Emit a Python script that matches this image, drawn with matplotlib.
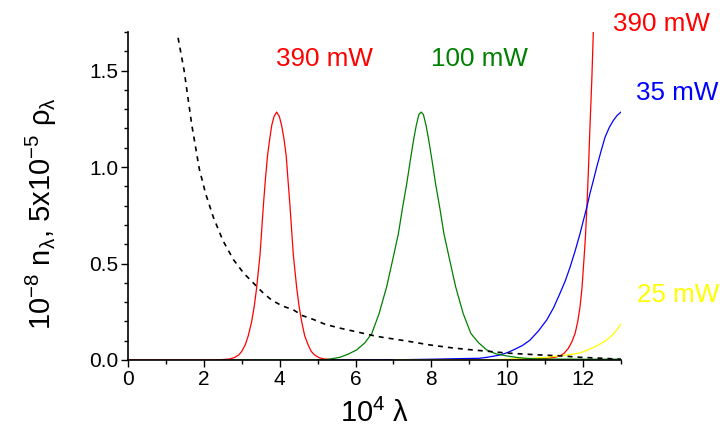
import matplotlib
matplotlib.use("Agg")
import matplotlib.pyplot as plt
from matplotlib.ticker import MultipleLocator

plt.rcParams['font.family'] = ['Liberation Sans', 'DejaVu Sans']
plt.rcParams['mathtext.fontset'] = 'custom'
plt.rcParams['mathtext.rm'] = 'Liberation Sans'
plt.rcParams['mathtext.it'] = 'Liberation Sans'
plt.rcParams['mathtext.bf'] = 'Liberation Sans:bold'

# ---- data ----
red_x = [0.0, 2.0, 2.4, 2.67, 2.8, 2.92, 3.0, 3.09, 3.17, 3.26, 3.33, 3.39, 3.48, 3.57,
         3.62, 3.68, 3.74, 3.79, 3.85, 3.92, 3.99, 4.05, 4.11, 4.17, 4.22, 4.27, 4.36,
         4.45, 4.51, 4.58, 4.66, 4.75, 4.83, 4.92, 5.04, 5.17, 5.5, 6.0, 8.0, 10.0, 10.6,
         11.04, 11.25, 11.39, 11.5, 11.61, 11.7, 11.79, 11.86, 11.92, 11.97, 12.01,
         12.06, 12.10, 12.14, 12.18, 12.23, 12.27, 12.32]
red_y = [0.0, 0.0, 0.001, 0.005, 0.012, 0.026, 0.045, 0.078, 0.125, 0.198, 0.28, 0.371,
         0.543, 0.802, 0.93, 1.061, 1.15, 1.216, 1.262, 1.285, 1.262, 1.216, 1.15, 1.061,
         0.93, 0.802, 0.543, 0.371, 0.28, 0.198, 0.125, 0.078, 0.045, 0.026, 0.012,
         0.005, 0.001, 0.0, 0.0, 0.002, 0.004, 0.009, 0.014, 0.021, 0.035, 0.06, 0.092,
         0.138, 0.2, 0.276, 0.37, 0.483, 0.63, 0.79, 0.98, 1.2, 1.45, 1.70, 1.95]

green_x = [2.5, 5.0, 5.3, 5.59, 5.8, 6.03, 6.25, 6.43, 6.62, 6.82, 6.98, 7.13, 7.24,
           7.35, 7.44, 7.53, 7.60, 7.67, 7.73, 7.79, 7.86, 7.93, 8.02, 8.11, 8.22, 8.33,
           8.48, 8.64, 8.84, 9.04, 9.24, 9.46, 9.7, 9.99, 10.3, 10.6, 11.0, 12.0, 13.0]
green_y = [0.0, 0.0, 0.004, 0.014, 0.03, 0.052, 0.09, 0.138, 0.24, 0.379, 0.52, 0.655,
           0.79, 0.914, 1.03, 1.14, 1.215, 1.272, 1.285, 1.272, 1.215, 1.14, 1.03, 0.914,
           0.79, 0.655, 0.52, 0.379, 0.24, 0.138, 0.09, 0.052, 0.032, 0.021, 0.012, 0.007,
           0.005, 0.004, 0.004]

blue_x = [5.0, 7.0, 8.0, 8.5, 9.0, 9.28, 9.5, 9.81, 10.0, 10.16, 10.4, 10.60, 10.82,
          11.04, 11.22, 11.39, 11.53, 11.66, 11.79, 11.92, 12.01, 12.10, 12.18, 12.27,
          12.36, 12.47, 12.58, 12.69, 12.80, 12.90, 13.0]
blue_y = [0.0, 0.001, 0.004, 0.006, 0.008, 0.009, 0.015, 0.026, 0.038, 0.052, 0.075,
          0.103, 0.15, 0.207, 0.27, 0.345, 0.41, 0.483, 0.565, 0.655, 0.725, 0.793, 0.862,
          0.93, 1.0, 1.08, 1.155, 1.205, 1.242, 1.268, 1.285]

yellow_x = [7.0, 9.5, 10.0, 10.5, 11.0, 11.4, 11.7, 11.9, 12.1, 12.35, 12.6, 12.8, 12.9,
            13.0]
yellow_y = [0.0, 0.001, 0.004, 0.008, 0.013, 0.022, 0.029, 0.036, 0.05, 0.072, 0.1,
            0.135, 0.158, 0.186]

dash_x = [1.32, 1.48, 1.68, 1.88, 2.05, 2.25, 2.5, 2.78, 3.05, 3.30, 3.55, 3.79, 4.07,
          4.36, 4.6, 4.89, 5.2, 5.59, 6.12, 6.5, 6.73, 7.3, 7.96, 8.5, 8.93, 9.5, 9.99,
          10.5, 11.0, 11.37, 11.92, 12.5, 13.0]
dash_y = [1.67, 1.50, 1.22, 0.99, 0.86, 0.74, 0.62, 0.52, 0.45, 0.40, 0.35, 0.31, 0.28,
          0.26, 0.23, 0.21, 0.185, 0.165, 0.142, 0.125, 0.117, 0.10, 0.078, 0.064, 0.055,
          0.045, 0.036, 0.03, 0.025, 0.022, 0.014, 0.009, 0.004]

labels = ["390 mW", "100 mW", "390 mW", "35 mW", "25 mW"]
label_colors = ["#ff0000", "#008000", "#ff0000", "#0000ff", "#ffff00"]
label_x = [5.18, 9.26, 14.06, 14.48, 14.5]
label_y = [1.526, 1.526, 1.704, 1.345, 0.298]

xticks = [0, 2, 4, 6, 8, 10, 12]
yticks = [0.0, 0.5, 1.0, 1.5]

fig = plt.figure(figsize=(7.2, 4.3), dpi=100)
ax = fig.add_axes([0.1778, 0.1628, 0.6847, 0.7628])

lw = 0.9
ax.plot(red_x, red_y, color="#ff0000", lw=lw)
ax.plot(blue_x, blue_y, color="#0000ff", lw=lw)
ax.plot(yellow_x, yellow_y, color="#ffff00", lw=lw)
ax.plot(green_x, green_y, color="#008000", lw=lw)
ax.plot(dash_x, dash_y, color="black", lw=1.2, dashes=(3, 3))

for t, c, x, y in zip(labels, label_colors, label_x, label_y):
    ax.text(x, y, t, color=c, fontsize=18.7, ha="center", va="baseline", clip_on=False)

ax.set_xlim(0, 13)
ax.set_ylim(0, 1.7)
ax.set_xticks(xticks)
ax.set_yticks(yticks)
ax.set_xticklabels([str(v) for v in xticks])
ax.set_yticklabels([f"{v:.1f}" for v in yticks])
ax.xaxis.set_minor_locator(MultipleLocator(1))
ax.yaxis.set_minor_locator(MultipleLocator(0.1))
ax.tick_params(which="major", direction="out", length=5, width=1, labelsize=15, pad=2)
ax.tick_params(which="minor", direction="out", length=3, width=1)

for s in ["top", "right"]:
    ax.spines[s].set_visible(False)
for s in ["left", "bottom"]:
    ax.spines[s].set_linewidth(1.2)

ax.set_xlabel(r"$10^4$ $\lambda$", fontsize=21, labelpad=7)
ax.set_ylabel(r"$10^{-8}$ n$_\lambda$, 5x$10^{-5}$ $\rho_\lambda$", fontsize=21)
ax.yaxis.set_label_coords(-0.14, 0.447)

fig.savefig("out.png", dpi=100)
